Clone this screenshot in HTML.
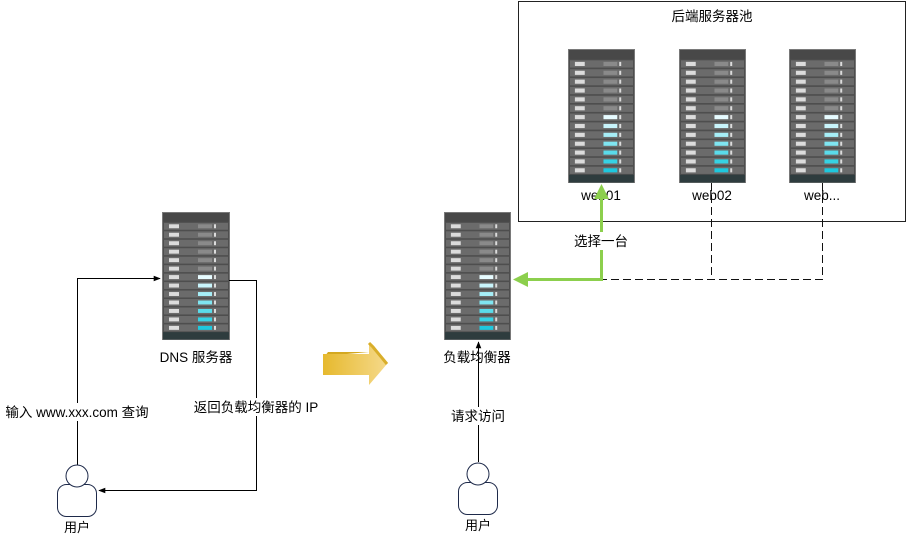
<!DOCTYPE html>
<html><head><meta charset="utf-8"><style>
html,body{margin:0;padding:0;background:#fff;}
svg{display:block;font-family:"Liberation Sans","Noto Sans CJK SC",sans-serif;}
</style></head><body>
<svg width="906" height="541" viewBox="0 0 906 541" xmlns="http://www.w3.org/2000/svg">
<defs>
<linearGradient id="ya" x1="0" x2="1" y1="0" y2="0"><stop offset="0" stop-color="#e6b92e"/><stop offset="1" stop-color="#f5d98a"/></linearGradient>
<symbol id="srv" viewBox="0 0 68 130" preserveAspectRatio="none">
<rect x="0.5" y="0.5" width="67" height="129" fill="#4e4e4e" stroke="#7a7a7a"/>
<rect x="1" y="1" width="66" height="9" fill="#484848"/>
<g fill="#6b6b6b">
<rect x="2" y="11" width="64" height="7"/><rect x="2" y="19.6" width="64" height="7"/><rect x="2" y="28.2" width="64" height="7"/><rect x="2" y="36.8" width="64" height="7"/><rect x="2" y="45.4" width="64" height="7"/><rect x="2" y="54" width="64" height="7"/><rect x="2" y="62.6" width="64" height="7"/><rect x="2" y="71.2" width="64" height="7"/><rect x="2" y="79.8" width="64" height="7"/><rect x="2" y="88.4" width="64" height="7"/><rect x="2" y="97" width="64" height="7"/><rect x="2" y="105.6" width="64" height="7"/><rect x="2" y="114.2" width="64" height="7"/>
</g>
<g fill="#dcdcdc">
<rect x="7" y="12.5" width="10" height="4"/><rect x="7" y="21.1" width="10" height="4"/><rect x="7" y="29.7" width="10" height="4"/><rect x="7" y="38.3" width="10" height="4"/><rect x="7" y="46.9" width="10" height="4"/><rect x="7" y="55.5" width="10" height="4"/><rect x="7" y="64.1" width="10" height="4"/><rect x="7" y="72.7" width="10" height="4"/><rect x="7" y="81.3" width="10" height="4"/><rect x="7" y="89.9" width="10" height="4"/><rect x="7" y="98.5" width="10" height="4"/><rect x="7" y="107.1" width="10" height="4"/><rect x="7" y="115.7" width="10" height="4"/>
<rect x="52" y="12.5" width="2" height="4"/><rect x="52" y="21.1" width="2" height="4"/><rect x="52" y="29.7" width="2" height="4"/><rect x="52" y="38.3" width="2" height="4"/><rect x="52" y="46.9" width="2" height="4"/><rect x="52" y="55.5" width="2" height="4"/><rect x="52" y="64.1" width="2" height="4"/><rect x="52" y="72.7" width="2" height="4"/><rect x="52" y="81.3" width="2" height="4"/><rect x="52" y="89.9" width="2" height="4"/><rect x="52" y="98.5" width="2" height="4"/><rect x="52" y="107.1" width="2" height="4"/><rect x="52" y="115.7" width="2" height="4"/>
</g>
<g fill="#8a8a8a">
<rect x="36" y="12.5" width="14" height="4"/><rect x="36" y="21.1" width="14" height="4"/><rect x="36" y="29.7" width="14" height="4"/><rect x="36" y="38.3" width="14" height="4"/><rect x="36" y="46.9" width="14" height="4"/><rect x="36" y="55.5" width="14" height="4"/>
</g>
<rect x="36" y="64.1" width="14" height="4" fill="#e6fbff"/>
<rect x="36" y="72.7" width="14" height="4" fill="#c8f4fb"/>
<rect x="36" y="81.3" width="14" height="4" fill="#a6eef7"/>
<rect x="36" y="89.9" width="14" height="4" fill="#7fe5f1"/>
<rect x="36" y="98.5" width="14" height="4" fill="#5adbea"/>
<rect x="36" y="107.1" width="14" height="4" fill="#36d2e4"/>
<rect x="36" y="115.7" width="14" height="4" fill="#1ec8de"/>
<rect x="1" y="122" width="66" height="7.5" fill="#2e3c3e"/>
</symbol>
<marker id="ab" viewBox="0 0 10 10" refX="9" refY="5" markerWidth="7" markerHeight="7" orient="auto-start-reverse"><path d="M0,1 L10,5 L0,9 Z" fill="#000"/></marker>
<marker id="ag" viewBox="0 0 10 10" refX="8" refY="5" markerWidth="5" markerHeight="5" orient="auto-start-reverse"><path d="M0,0 L10,5 L0,10 Z" fill="#8ccf4d"/></marker>
</defs>

<rect x="518.5" y="1.5" width="387" height="220" fill="#fff" stroke="#222"/>
<text x="712" y="21" font-size="13.5" text-anchor="middle">后端服务器池</text>

<use href="#srv" x="162" y="212" width="68" height="128"/>
<use href="#srv" x="444" y="212" width="67" height="128"/>
<use href="#srv" x="568" y="49" width="67" height="134"/>
<use href="#srv" x="679" y="49" width="67" height="134"/>
<use href="#srv" x="789" y="49" width="67" height="134"/>

<path d="M711.5,183 V279.5 M822.5,183 V279.5 H512" fill="none" stroke="#111" stroke-dasharray="8,4"/>

<text x="601" y="200" font-size="13.5" text-anchor="middle">web01</text>
<text x="712" y="200" font-size="13.5" text-anchor="middle">web02</text>
<text x="822" y="200" font-size="13.5" text-anchor="middle">web...</text>
<text x="196" y="362" font-size="13.5" text-anchor="middle">DNS 服务器</text>
<text x="477" y="362" font-size="13.5" text-anchor="middle">负载均衡器</text>

<path d="M516,279.5 H601.5 V187" fill="none" stroke="#8ccf4d" stroke-width="3" marker-start="url(#ag)" marker-end="url(#ag)"/>
<rect x="570" y="232" width="62" height="18" fill="#fff"/>
<text x="601" y="246" font-size="13.5" text-anchor="middle">选择一台</text>

<path d="M77.5,466 V278.5 H160" fill="none" stroke="#000" marker-end="url(#ab)"/>
<path d="M229,280.5 H256.5 V490.5 H99" fill="none" stroke="#000" marker-end="url(#ab)"/>
<rect x="3" y="403" width="148" height="18" fill="#fff"/>
<text x="77" y="417" font-size="13.5" text-anchor="middle">输入 www.xxx.com 查询</text>
<rect x="190" y="398" width="132" height="18" fill="#fff"/>
<text x="256" y="412" font-size="13.5" text-anchor="middle">返回负载均衡器的 IP</text>

<path d="M478.5,462 V342" fill="none" stroke="#000" marker-end="url(#ab)"/>
<rect x="446" y="407" width="64" height="18" fill="#fff"/>
<text x="478" y="421" font-size="13.5" text-anchor="middle">请求访问</text>

<g fill="#fff" stroke="#1e2a4a" stroke-width="1">
<rect x="57.5" y="484.5" width="39" height="32" rx="9"/>
<circle cx="77" cy="476" r="11"/>
<rect x="458.5" y="482.5" width="39" height="32" rx="9"/>
<circle cx="478" cy="474" r="11"/>
</g>
<text x="77" y="532" font-size="13" text-anchor="middle">用户</text>
<text x="478" y="530" font-size="13" text-anchor="middle">用户</text>

<path d="M325,356 L328,352 H373 V347 L369,343 V352 Z" fill="#d4a820"/>
<path d="M323,354 H369 V343 L387,364 L369,385 V375 H323 Z" fill="url(#ya)"/>
<path d="M369,343 L373,347 L387,364" fill="none" stroke="#d9ae2a" stroke-width="3"/>
</svg>
</body></html>
